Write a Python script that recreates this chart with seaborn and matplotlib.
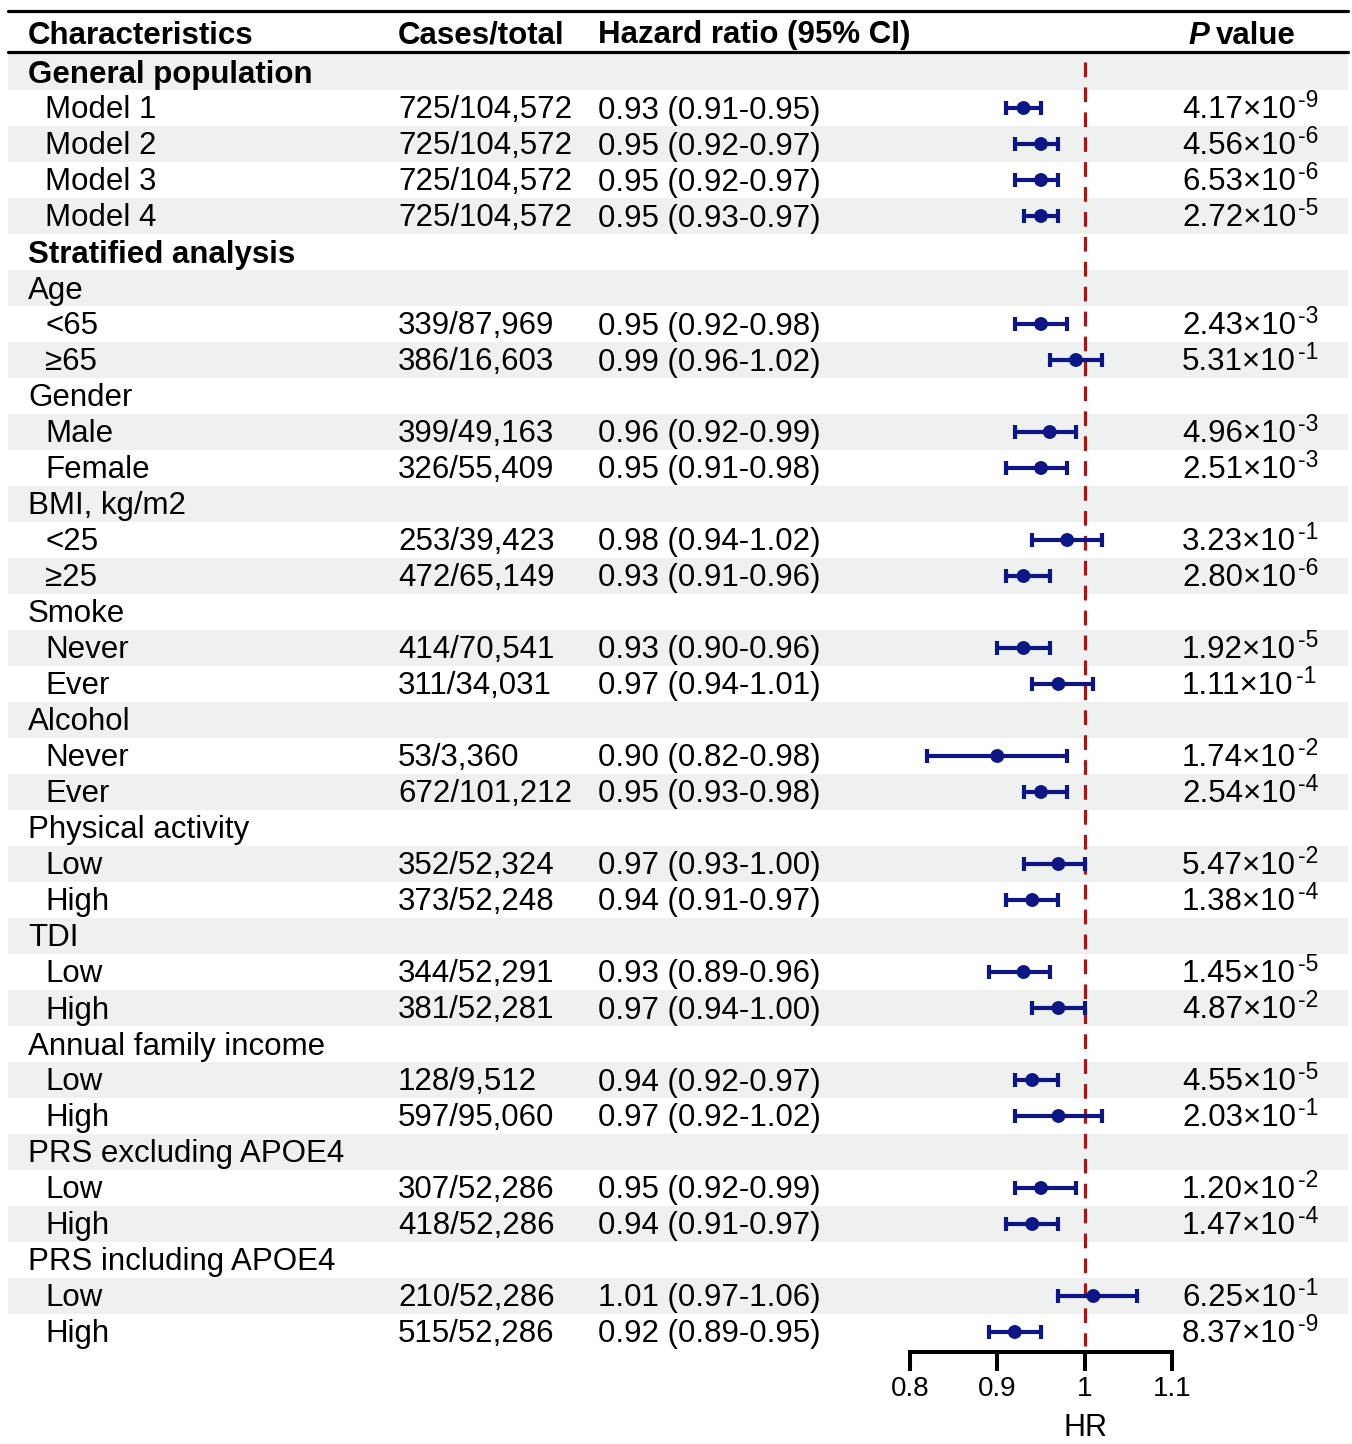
import numpy as np
import pandas as pd
import matplotlib
matplotlib.use("Agg")
import matplotlib.pyplot as plt
import matplotlib.transforms as mtransforms
import seaborn as sns

# ---------------- data ----------------
labels = ["General population", "Model 1", "Model 2", "Model 3", "Model 4",
          "Stratified analysis", "Age", "<65", "≥65", "Gender", "Male", "Female",
          "BMI, kg/m2", "<25", "≥25", "Smoke", "Never", "Ever", "Alcohol", "Never", "Ever",
          "Physical activity", "Low", "High", "TDI", "Low", "High",
          "Annual family income", "Low", "High", "PRS excluding APOE4", "Low", "High",
          "PRS including APOE4", "Low", "High"]
levels = [0, 2, 2, 2, 2,
          0, 1, 2, 2, 1, 2, 2,
          1, 2, 2, 1, 2, 2, 1, 2, 2,
          1, 2, 2, 1, 2, 2,
          1, 2, 2, 1, 2, 2,
          1, 2, 2]
cases = ["", "725/104,572", "725/104,572", "725/104,572", "725/104,572",
         "", "", "339/87,969", "386/16,603", "", "399/49,163", "326/55,409",
         "", "253/39,423", "472/65,149", "", "414/70,541", "311/34,031",
         "", "53/3,360", "672/101,212", "", "352/52,324", "373/52,248",
         "", "344/52,291", "381/52,281", "", "128/9,512", "597/95,060",
         "", "307/52,286", "418/52,286", "", "210/52,286", "515/52,286"]
hr = [np.nan, 0.93, 0.95, 0.95, 0.95,
      np.nan, np.nan, 0.95, 0.99, np.nan, 0.96, 0.95,
      np.nan, 0.98, 0.93, np.nan, 0.93, 0.97, np.nan, 0.90, 0.95,
      np.nan, 0.97, 0.94, np.nan, 0.93, 0.97,
      np.nan, 0.94, 0.97, np.nan, 0.95, 0.94,
      np.nan, 1.01, 0.92]
ci_low = [np.nan, 0.91, 0.92, 0.92, 0.93,
          np.nan, np.nan, 0.92, 0.96, np.nan, 0.92, 0.91,
          np.nan, 0.94, 0.91, np.nan, 0.90, 0.94, np.nan, 0.82, 0.93,
          np.nan, 0.93, 0.91, np.nan, 0.89, 0.94,
          np.nan, 0.92, 0.92, np.nan, 0.92, 0.91,
          np.nan, 0.97, 0.89]
ci_high = [np.nan, 0.95, 0.97, 0.97, 0.97,
           np.nan, np.nan, 0.98, 1.02, np.nan, 0.99, 0.98,
           np.nan, 1.02, 0.96, np.nan, 0.96, 1.01, np.nan, 0.98, 0.98,
           np.nan, 1.00, 0.97, np.nan, 0.96, 1.00,
           np.nan, 0.97, 1.02, np.nan, 0.99, 0.97,
           np.nan, 1.06, 0.95]
p_mant = ["", "4.17", "4.56", "6.53", "2.72",
          "", "", "2.43", "5.31", "", "4.96", "2.51",
          "", "3.23", "2.80", "", "1.92", "1.11", "", "1.74", "2.54",
          "", "5.47", "1.38", "", "1.45", "4.87",
          "", "4.55", "2.03", "", "1.20", "1.47",
          "", "6.25", "8.37"]
p_exp = ["", "-9", "-6", "-6", "-5",
         "", "", "-3", "-1", "", "-3", "-3",
         "", "-1", "-6", "", "-5", "-1", "", "-2", "-4",
         "", "-2", "-4", "", "-5", "-2",
         "", "-5", "-1", "", "-2", "-4",
         "", "-1", "-9"]
xticks = [0.8, 0.9, 1.0, 1.1]
xticklabels = ["0.8", "0.9", "1", "1.1"]
headers = ["Characteristics", "Cases/total", "Hazard ratio (95% CI)"]

# ---------------- style ----------------
sns.set_theme(style="white")
plt.rcParams['font.family'] = ['Liberation Sans', 'DejaVu Sans']
plt.rcParams['text.color'] = 'black'
plt.rcParams['axes.labelcolor'] = 'black'
plt.rcParams['xtick.color'] = 'black'

W, H = 1352, 1444
fig = plt.figure(figsize=(W / 100, H / 100), dpi=100)
axis_px = 1352
ax = fig.add_axes([0, (H - axis_px) / H, 1, axis_px / H])

row0, rowh = 72, 36
ppu = (1172 - 910) / 0.3
x_left = 0.8 - 910 / ppu
x_right = 0.8 + (W - 910) / ppu
ax.set_xlim(x_left, x_right)
ax.set_ylim((axis_px - row0) / rowh, -row0 / rowh)

def py(p):
    return (p - row0) / rowh

n = len(labels)
stripe = "#eef1f0"
for i in range(n):
    if i % 2 == 0:
        ax.axhspan(i - 0.5, i + 0.5, xmin=8 / W, xmax=1348 / W, color=stripe, lw=0, zorder=0)

# horizontal rules
ax.axhline(py(11), xmin=8 / W, xmax=1348 / W, color="black", lw=2.3, zorder=3)
ax.axhline(py(51.5), xmin=8 / W, xmax=1348 / W, color="black", lw=2.3, zorder=3)

# reference line
ax.vlines(1.0, py(62), py(1346), colors="#a01818", lw=2.3,
          linestyles=(0, (4.6, 3.2)), zorder=2)

# estimates
df = pd.DataFrame({"row": np.arange(n), "hr": hr, "lo": ci_low, "hi": ci_high}).dropna()
navy = "#0c1684"
ax.errorbar(df["hr"], df["row"], xerr=[df["hr"] - df["lo"], df["hi"] - df["hr"]],
            fmt="none", ecolor=navy, elinewidth=3.0, capsize=5.0, capthick=3.0, zorder=4)
sns.scatterplot(data=df, x="hr", y="row", ax=ax, color=navy, s=100,
                edgecolor="none", zorder=5, legend=False)

# text
tr = mtransforms.blended_transform_factory(ax.transAxes, ax.transData)
fs = 22.5
base = 10.5 / rowh  # baseline offset below row centre
hy = py(43.5)
ax.text(28 / W, hy, headers[0], transform=tr, fontsize=fs, fontweight="bold", va="baseline")
ax.text(398 / W, hy, headers[1], transform=tr, fontsize=fs, fontweight="bold", va="baseline")
ax.text(598 / W, hy, headers[2], transform=tr, fontsize=fs, fontweight="bold", va="baseline")
ax.text(1188 / W, hy, "P", transform=tr, fontsize=fs, fontweight="bold", style="italic", va="baseline")
ax.text(1216 / W, hy, "value", transform=tr, fontsize=fs, fontweight="bold", va="baseline")

for i in range(n):
    lv = levels[i]
    xpx = 45 if lv == 2 else 28
    yb = i + base
    ax.text(xpx / W, yb, labels[i], transform=tr, fontsize=fs,
            fontweight="bold" if lv == 0 else "normal", va="baseline")
    if cases[i]:
        ax.text(398 / W, yb, cases[i], transform=tr, fontsize=fs, va="baseline")
        ax.text(598 / W, yb, f"{hr[i]:.2f} ({ci_low[i]:.2f}-{ci_high[i]:.2f})",
                transform=tr, fontsize=fs, va="baseline")
        t = ax.text(1182 / W, yb, f"{p_mant[i]}×10", transform=tr, fontsize=fs, va="baseline")
        ax.annotate(p_exp[i], xy=(1, i), xycoords=(t, tr), xytext=(1.5, 0.5),
                    textcoords="offset points", fontsize=16.5, va="baseline", ha="left")

# axis
for s in ["top", "left", "right"]:
    ax.spines[s].set_visible(False)
ax.spines["bottom"].set_bounds(0.8, 1.1)
ax.spines["bottom"].set_linewidth(2.9)
ax.spines["bottom"].set_color("black")
ax.set_yticks([])
ax.set_xticks(xticks)
ax.set_xticklabels(xticklabels)
ax.tick_params(axis="x", direction="out", length=13.5, width=2.9, color="black",
               labelcolor="black", labelsize=20, pad=4, bottom=True)
ax.set_xlabel("HR", fontsize=22, color="black")
ax.xaxis.set_label_coords(1086 / W, (axis_px - 1428) / axis_px)
ax.xaxis.label.set_va("center")
ax.set_ylabel("")
ax.patch.set_alpha(0)

fig.savefig("out.png", dpi=100, facecolor="white")
